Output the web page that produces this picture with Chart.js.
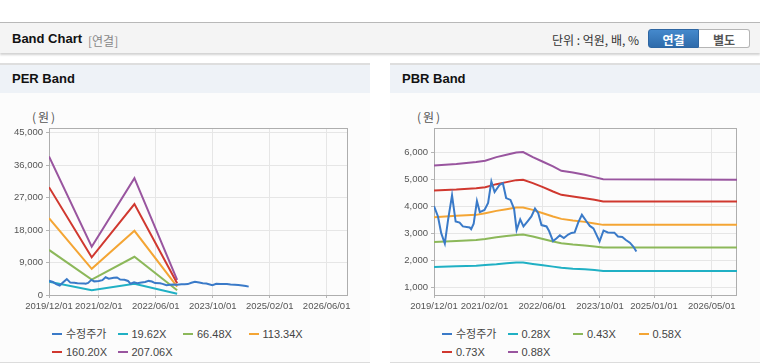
<!DOCTYPE html>
<html>
<head>
<meta charset="utf-8">
<script src="https://cdn.jsdelivr.net/npm/chart.js@4.4.1/dist/chart.umd.min.js"></script>
<style>
body{margin:0;width:760px;height:364px;overflow:hidden;background:#fff;position:relative;
  font-family:"Liberation Sans",Arial,"Noto Sans CJK KR",sans-serif;color:#222}
.topbar{position:absolute;left:0;top:22px;width:760px;height:30px;background:#f4f4f4;
  border-top:1px solid #b8b8b8;box-shadow:0 2px 2px rgba(0,0,0,.18)}
.topbar .ttl{position:absolute;left:12px;top:8px;font-size:13px;font-weight:bold;color:#111}
.topbar .sub{position:absolute;left:88px;top:9px;font-size:12px;color:#888;font-family:"Noto Sans CJK KR",sans-serif}
.topbar .unit{position:absolute;left:552px;top:8px;font-size:12px;color:#333;font-family:"Noto Sans CJK KR",sans-serif}
.btn{position:absolute;top:6px;height:19px;width:51px;font-size:12px;font-weight:bold;text-align:center;
  line-height:19px;font-family:"Noto Sans CJK KR",sans-serif;box-sizing:border-box}
.btn.on{left:648px;background:linear-gradient(#4589cc,#2e6bab);color:#fff;border:1px solid #2e66a2;border-radius:3px 0 0 3px}
.btn.off{left:699px;background:#fff;color:#555;border:1px solid #b5b5b5;border-left:none;border-radius:0 3px 3px 0}
.panel{position:absolute;top:63px;width:370px;height:299px;background:#fcfcfc;border-bottom:1px solid #dcdcdc}
.phead{height:28px;background:#eef2f7;border-top:2px solid #dedede;font-size:13px;font-weight:bold;
  line-height:28px;padding-left:12px;color:#111}
.won{position:absolute;top:45px;font-size:12px;color:#555;letter-spacing:2px;font-family:"Noto Sans CJK KR",sans-serif}
.panel canvas{position:absolute;left:0;top:37px}
.legend{position:absolute;left:52px;top:261px;width:320px}
.item{display:inline-block;width:65.5px;height:13px;font-size:11px;color:#444;white-space:nowrap;line-height:13px}
.item i{display:inline-block;width:10px;height:2.5px;vertical-align:middle;margin-right:4px;margin-top:-2px}
</style>
</head>
<body>
<div class="topbar">
  <span class="ttl">Band Chart</span><span class="sub">[연결]</span>
  <span class="unit">단위 : 억원, 배, %</span>
  <div class="btn on">연결</div><div class="btn off">별도</div>
</div>

<div class="panel" style="left:0">
  <div class="phead">PER Band</div>
  <span class="won" style="left:32px">(원)</span>
  <canvas id="perChart" width="370" height="215"></canvas>
  <div class="legend" id="perLegend"></div>
</div>

<div class="panel" style="left:390px">
  <div class="phead">PBR Band</div>
  <span class="won" style="left:27px">(원)</span>
  <canvas id="pbrChart" width="370" height="215"></canvas>
  <div class="legend" id="pbrLegend"></div>
</div>

<script>
// x = months since 2019/12/01
var xMax = 84;

// adjusted price (수정주가), shared by both charts
var priceMonths = [0, 1.1, 2.0, 3.0, 3.9, 5.0, 6.0, 7.1, 8.0, 9.9, 10.3, 11.0, 11.9, 12.7, 14.0, 15.0,
  15.9, 16.8, 18.2, 19.1, 20.0, 21.2, 22.2, 22.9, 23.9, 24.8, 26.0, 27.0, 28.0, 28.9, 29.8, 31.2,
  31.9, 33.0, 34.0, 34.9, 36.0, 37.2, 38.1, 39.0, 40.0, 41.0, 42.2, 43.2, 44.2, 45.9, 47.0, 48.2,
  50.0, 51.0, 52.2, 53.2, 54.3, 55.3, 56.1];
var priceValues = [4000, 3620, 3000, 2620, 3490, 4400, 3430, 3390, 3250, 3210, 3150, 3350, 4190, 3780, 3860, 4120,
  4910, 4520, 4790, 4850, 4300, 4230, 3900, 3120, 3510, 3250, 3450, 3620, 3910, 3740, 3300, 3250,
  3080, 2710, 2810, 2920, 2820, 2950, 3010, 3030, 3400, 3680, 3450, 3270, 3180, 2700, 3100, 3030,
  3020, 2880, 2860, 2750, 2650, 2500, 2320];

// PER band (yearly EPS points)
var perMonths = [0, 12, 24, 36];
var per1962 = [3700, 1300, 3100, 350];
var per6648 = [12500, 4250, 10600, 1300];
var per11334 = [21300, 7250, 17800, 2300];
var per16020 = [29900, 10450, 25200, 3250];
var per20706 = [38400, 13400, 32400, 4200];
var perLabels = ['수정주가', '19.62X', '66.48X', '113.34X', '160.20X', '207.06X'];
var perXTicks = [0, 14, 30, 46, 62, 78];
var perXTickLabels = ['2019/12/01', '2021/02/01', '2022/06/01', '2023/10/01', '2025/02/01', '2026/06/01'];
var perYTicks = [0, 9000, 18000, 27000, 36000, 45000];

// PBR band
var pbrMonths = [0, 6.2, 11.7, 14.2, 17.3, 20.1, 22.8, 24.7, 27.4, 30.2, 33.0, 35.3, 38.5, 41.8, 44.5, 46.9, 84];
var pbr028 = [1752, 1777, 1801, 1826, 1851, 1888, 1913, 1913, 1863, 1814, 1764, 1727, 1690, 1666, 1641, 1604, 1604];
var pbr043 = [2678, 2715, 2752, 2789, 2851, 2900, 2937, 2950, 2876, 2789, 2690, 2629, 2579, 2542, 2505, 2468, 2468];
var pbr058 = [3592, 3641, 3678, 3740, 3826, 3888, 3950, 3950, 3863, 3740, 3616, 3530, 3468, 3419, 3357, 3308, 3308];
var pbr073 = [4579, 4616, 4666, 4703, 4814, 4888, 4962, 4974, 4851, 4703, 4542, 4419, 4357, 4295, 4233, 4172, 4172];
var pbr088 = [5505, 5555, 5629, 5678, 5814, 5900, 5987, 6000, 5814, 5641, 5468, 5308, 5246, 5160, 5073, 4999, 4974];
var pbrLabels = ['수정주가', '0.28X', '0.43X', '0.58X', '0.73X', '0.88X'];
var pbrXTicks = [0, 14, 30, 46, 61, 77];
var pbrXTickLabels = ['2019/12/01', '2021/02/01', '2022/06/01', '2023/10/01', '2025/01/01', '2026/05/01'];
var pbrYTicks = [1000, 2000, 3000, 4000, 5000, 6000];

var colors = ['#3a7ac8', '#20b0c4', '#8cb85a', '#f4a534', '#d0382f', '#99559f'];

Chart.defaults.font.family = '"Liberation Sans", Arial, "Noto Sans CJK KR", sans-serif';

// plot frame around the chart area
var framePlugin = {
  id: 'frame',
  beforeDatasetsDraw: function (chart) {
    var a = chart.chartArea, ctx = chart.ctx;
    ctx.save();
    ctx.strokeStyle = '#aeaeae';
    ctx.lineWidth = 1;
    ctx.strokeRect(a.left + 0.5, a.top + 0.5, a.right - a.left - 1, a.bottom - a.top);
    ctx.restore();
  }
};

function toPoints(xs, ys) {
  return xs.map(function (x, i) { return { x: x, y: ys[i] }; });
}

function lineSet(label, xs, ys, color) {
  return {
    label: label,
    data: toPoints(xs, ys),
    borderColor: color,
    backgroundColor: color,
    borderWidth: 2,
    pointRadius: 0,
    tension: 0,
    fill: false
  };
}

function buildLegend(id, labels) {
  var html = '';
  labels.forEach(function (l, i) {
    html += '<span class="item"><i style="background:' + colors[i] + '"></i>' + l + '</span>';
  });
  document.getElementById(id).innerHTML = html;
}

function axisOptions(xTicks, xLabels, yTicks, yMin, yMax, yWidth, rightPad) {
  var tickFont = { size: 9.5 };
  return {
    responsive: false,
    animation: false,
    layout: { padding: { top: 28, right: rightPad, left: 0, bottom: 0 } },
    plugins: { legend: { display: false }, tooltip: { enabled: false } },
    scales: {
      x: {
        type: 'linear',
        min: 0,
        max: xMax,
        afterBuildTicks: function (s) { s.ticks = xTicks.map(function (v) { return { value: v }; }); },
        afterFit: function (s) { s.height = 20; },
        grid: { color: '#e6e6e6', tickColor: '#b5b5b5', tickLength: 3 },
        border: { display: false },
        ticks: {
          autoSkip: false, maxRotation: 0, padding: 3, color: '#555', font: tickFont,
          callback: function (v) { var i = xTicks.indexOf(v); return i >= 0 ? xLabels[i] : ''; }
        }
      },
      y: {
        min: yMin,
        max: yMax,
        afterBuildTicks: function (s) { s.ticks = yTicks.map(function (v) { return { value: v }; }); },
        afterFit: function (s) { s.width = yWidth; },
        grid: { color: '#e6e6e6', tickColor: '#b5b5b5', tickLength: 3 },
        border: { display: false },
        ticks: {
          padding: 3, color: '#555', font: tickFont,
          callback: function (v) { return v.toLocaleString('en-US'); }
        }
      }
    }
  };
}

window.onload = function () {
  renderPerChart();
  renderPbrChart();
};

function renderPerChart() {
  var ctx = document.getElementById('perChart').getContext('2d');
  new Chart(ctx, {
    type: 'line',
    data: {
      datasets: [
        lineSet(perLabels[0], priceMonths, priceValues, colors[0]),
        lineSet(perLabels[1], perMonths, per1962, colors[1]),
        lineSet(perLabels[2], perMonths, per6648, colors[2]),
        lineSet(perLabels[3], perMonths, per11334, colors[3]),
        lineSet(perLabels[4], perMonths, per16020, colors[4]),
        lineSet(perLabels[5], perMonths, per20706, colors[5])
      ]
    },
    options: axisOptions(perXTicks, perXTickLabels, perYTicks, 0, 46300, 49, 22),
    plugins: [framePlugin]
  });
  buildLegend('perLegend', perLabels);
}

function renderPbrChart() {
  var ctx = document.getElementById('pbrChart').getContext('2d');
  new Chart(ctx, {
    type: 'line',
    data: {
      datasets: [
        lineSet(pbrLabels[0], priceMonths, priceValues, colors[0]),
        lineSet(pbrLabels[1], pbrMonths, pbr028, colors[1]),
        lineSet(pbrLabels[2], pbrMonths, pbr043, colors[2]),
        lineSet(pbrLabels[3], pbrMonths, pbr058, colors[3]),
        lineSet(pbrLabels[4], pbrMonths, pbr073, colors[4]),
        lineSet(pbrLabels[5], pbrMonths, pbr088, colors[5])
      ]
    },
    options: axisOptions(pbrXTicks, pbrXTickLabels, pbrYTicks, 715, 6890, 44, 23),
    plugins: [framePlugin]
  });
  buildLegend('pbrLegend', pbrLabels);
}
</script>
</body>
</html>
